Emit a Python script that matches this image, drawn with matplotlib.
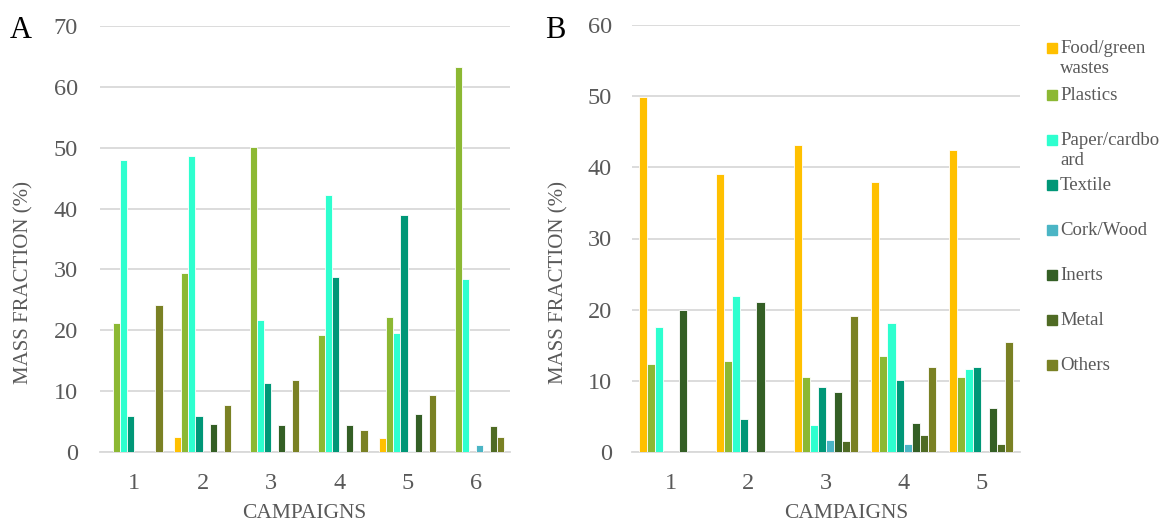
import matplotlib
matplotlib.use("Agg")
import matplotlib.pyplot as plt
import numpy as np
from matplotlib.patches import Rectangle

series = ["Food/green\nwastes", "Plastics", "Paper/cardbo\nard", "Textile",
          "Cork/Wood", "Inerts", "Metal", "Others"]
colors = ["#FFC000", "#8CB833", "#2EFFCF", "#009777", "#4BB5C5", "#345F25", "#4F6B24", "#7A8124"]

campaigns_a = ["1", "2", "3", "4", "5", "6"]
food_a    = [0.0, 2.5, 0.0, 0.0, 2.3, 0.0]
plast_a   = [21.2, 29.4, 50.1, 19.2, 22.2, 63.3]
paper_a   = [47.9, 48.7, 21.7, 42.3, 19.5, 28.4]
textile_a = [5.9, 5.9, 11.4, 28.7, 39.0, 0.0]
cork_a    = [0.0, 0.0, 0.0, 0.2, 0.2, 1.1]
inerts_a  = [0.0, 4.6, 4.4, 4.5, 6.2, 0.0]
metal_a   = [0.0, 0.0, 0.0, 0.0, 0.0, 4.3]
others_a  = [24.1, 7.8, 11.8, 3.6, 9.4, 2.5]

campaigns_b = ["1", "2", "3", "4", "5"]
food_b    = [49.9, 39.0, 43.1, 37.9, 42.4]
plast_b   = [12.3, 12.8, 10.6, 13.5, 10.5]
paper_b   = [17.5, 21.9, 3.8, 18.1, 11.6]
textile_b = [0.0, 4.6, 9.1, 10.1, 11.9]
cork_b    = [0.0, 0.0, 1.7, 1.1, 0.0]
inerts_b  = [20.0, 21.1, 8.5, 4.1, 6.2]
metal_b   = [0.0, 0.0, 1.5, 2.4, 1.1]
others_b  = [0.0, 0.0, 19.1, 11.9, 15.5]

data_a = [food_a, plast_a, paper_a, textile_a, cork_a, inerts_a, metal_a, others_a]
data_b = [food_b, plast_b, paper_b, textile_b, cork_b, inerts_b, metal_b, others_b]

plt.rcParams['font.family'] = ['Liberation Serif', 'DejaVu Serif']
GRAY = "#595959"
GRID = "#D9D9D9"
W, H = 1160, 524

fig = plt.figure(figsize=(11.6, 5.24), dpi=100)
axA = fig.add_axes([100 / W, 1 - 452 / H, 410 / W, 426 / H])
axB = fig.add_axes([632 / W, 1 - 452 / H, 388 / W, 427 / H])

def draw(ax, cats, data, ymax, ypad):
    x = np.arange(1, len(cats) + 1)
    pitch = 0.104
    for i, (vals, c) in enumerate(zip(data, colors)):
        ax.bar(x + (i - 3.5) * pitch, vals, width=pitch, color=c,
               edgecolor="white", linewidth=0.6, zorder=3)
    ax.set_xlim(0.5, len(cats) + 0.5)
    ax.set_ylim(0, ymax)
    ax.set_yticks(np.arange(0, ymax + 1, 10))
    ax.set_xticks(x)
    ax.set_xticklabels(cats)
    ax.yaxis.grid(True, color=GRID, linewidth=1.3, zorder=0)
    ax.set_axisbelow(True)
    for s in ["top", "right", "left"]:
        ax.spines[s].set_visible(False)
    ax.spines["bottom"].set_color(GRID)
    ax.spines["bottom"].set_linewidth(1.3)
    ax.tick_params(axis="both", length=0, labelsize=17.5, labelcolor=GRAY)
    ax.tick_params(axis="y", pad=ypad)
    ax.tick_params(axis="x", pad=15)

draw(axA, campaigns_a, data_a, 70, 16)
draw(axB, campaigns_b, data_b, 60, 14.5)

# axis titles
for xc, xl in [(24, 304), (559, 846)]:
    fig.text(xc / W, 1 - 282 / H, "MASS FRACTION (%)", rotation=90, fontsize=15,
             color=GRAY, ha="center", va="center")
    fig.text(xl / W, 1 - 514 / H, "CAMPAIGNS", fontsize=15.5, color=GRAY,
             ha="center", va="center")

fig.text(10 / W, 1 - 30 / H, "A", fontsize=22, color="black", va="center", ha="left")
fig.text(545 / W, 1 - 30 / H, "B", fontsize=22, color="black", va="center", ha="left")

# legend drawn manually
leg_y = [48, 95, 140, 185, 230, 275, 320, 365]
for lab, c, yy in zip(series, colors, leg_y):
    fig.add_artist(Rectangle((1047 / W, 1 - (yy + 5) / H), 10 / W, 10 / H,
                             transform=fig.transFigure, color=c))
    fig.text(1060 / W, 1 - (yy - 8) / H, lab, fontsize=13.5, color=GRAY,
             va="top", ha="left", linespacing=1.25)

fig.savefig("out.png", dpi=100)
